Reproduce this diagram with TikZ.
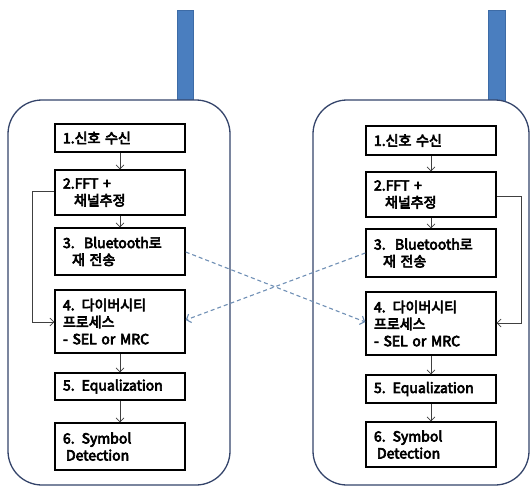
\documentclass[tikz,border=0pt]{standalone}
\usepackage{fontspec}
\setmainfont{Noto Sans CJK KR}[FakeBold=4.5]
\usetikzlibrary{arrows.meta}
\definecolor{phoneline}{HTML}{34446A}
\definecolor{antfill}{HTML}{4A7EBF}
\definecolor{antedge}{HTML}{3D6BA6}
\definecolor{dashc}{HTML}{6F8FB5}
\begin{document}
\begin{tikzpicture}[x=1pt,y=-1pt,
  phone/.style={draw=phoneline,line width=1.3pt,rounded corners=34pt},
  antenna/.style={fill=antfill,draw=antedge,line width=0.6pt},
  stepbox/.style={draw=black,line width=1.4pt,minimum width=130pt,text width=120pt,align=left,inner xsep=5pt,inner ysep=0pt,font=\fontsize{14}{17}\selectfont},
  flow/.style={draw=black!75,line width=0.6pt,-{Straight Barb[length=4pt,width=8pt]}},
  link/.style={draw=dashc,line width=1.1pt,dashed,dash pattern=on 4pt off 3pt,-{Straight Barb[length=4pt,width=9pt]}}]
\useasboundingbox (0,0) rectangle (532,490);
% antennas
\fill[antenna] (177,10) rectangle (193,101);
\fill[antenna] (488,10) rectangle (505,101);
% phones
\draw[phone,fill=white] (8,100) rectangle (230,485);
\draw[phone,fill=white] (313,100) rectangle (529,485);
% left boxes
\node[stepbox,minimum height=28pt] (l1) at (120,138) {\hspace*{3pt}1.신호 수신};
\node[stepbox,minimum height=45pt] (l2) at (120,192.5) {\hspace*{3pt}2.FFT +\\\hspace*{14pt}채널추정};
\node[stepbox,minimum height=47pt] (l3) at (120,251.5) {\mbox{\hspace*{3pt}3.\ \ Bluetooth로}\\\hspace*{12pt}재 전송};
\node[stepbox,minimum height=63pt] (l4) at (120,321.5) {\hspace*{3pt}4. 다이버시티\\\hspace*{3pt}프로세스\\\hspace*{3pt}- SEL or MRC};
\node[stepbox,minimum height=27pt] (l5) at (120,386.5) {\mbox{\hspace*{3pt}5. Equalization}};
\node[stepbox,minimum height=47pt] (l6) at (120,446.5) {\hspace*{3pt}6. Symbol\\\hspace*{6pt}Detection};
% right boxes
\node[stepbox,minimum height=29pt] (r1) at (431,140.5) {\hspace*{3pt}1.신호 수신};
\node[stepbox,minimum height=45pt] (r2) at (431,194.5) {\hspace*{3pt}2.FFT +\\\hspace*{14pt}채널추정};
\node[stepbox,minimum height=48pt] (r3) at (431,253) {\mbox{\hspace*{3pt}3.\ \ Bluetooth로}\\\hspace*{12pt}재 전송};
\node[stepbox,minimum height=63pt] (r4) at (431,323.5) {\hspace*{3pt}4. 다이버시티\\\hspace*{3pt}프로세스\\\hspace*{3pt}- SEL or MRC};
\node[stepbox,minimum height=28pt] (r5) at (431,389) {\mbox{\hspace*{3pt}5. Equalization}};
\node[stepbox,minimum height=45pt] (r6) at (431,444.5) {\hspace*{3pt}6. Symbol\\\hspace*{6pt}Detection};
% vertical flow
\foreach \a/\b in {l1/l2,l2/l3,l4/l5,l5/l6,r1/r2,r2/r3,r4/r5,r5/r6}
  \draw[flow] (\a.south) -- (\b.north);
% feedback paths
\coordinate (lc1) at (32,191);
\coordinate (lc2) at (32,322);
\draw[flow] (l2.west |- lc1) -- (lc1) -- (lc2) -- (l4.west |- lc2);
\coordinate (rc1) at (521,196);
\coordinate (rc2) at (521,323);
\draw[flow] (r2.east |- rc1) -- (rc1) -- (rc2) -- (r4.east |- rc2);
% bluetooth links
\coordinate (la) at (185,252);
\coordinate (lb) at (186,320);
\coordinate (ra) at (366,253);
\coordinate (rb) at (365,322);
\draw[link] (l3.east |- la) -- (r4.west |- rb);
\draw[link] (r3.west |- ra) -- (l4.east |- lb);
\end{tikzpicture}
\end{document}
